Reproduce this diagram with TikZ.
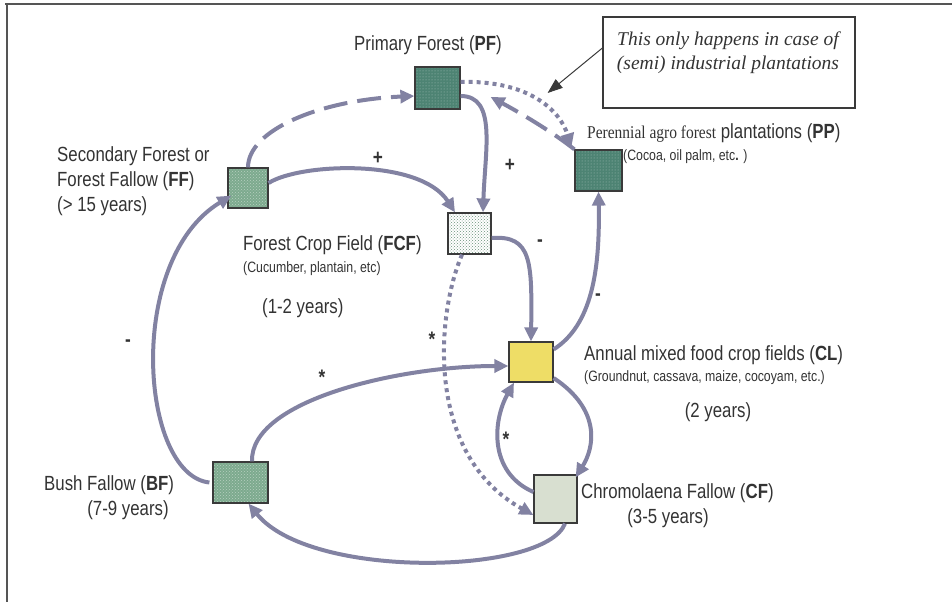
\documentclass[tikz,border=0pt]{standalone}
\usepackage{fontspec}
\usetikzlibrary{arrows.meta,patterns,calc}
\newfontfamily\lab{Liberation Sans}[FakeStretch=0.82]
\newfontfamily\ser{Liberation Serif}
\newfontfamily\sern{Liberation Serif}[FakeStretch=0.86]
\definecolor{linec}{HTML}{8282A2}
\definecolor{pfdark}{HTML}{4D8373}
\definecolor{ffgreen}{HTML}{7DAA8E}
\definecolor{cfgray}{HTML}{D8DFD0}
\definecolor{clyellow}{HTML}{EEDD66}
\definecolor{boxborder}{HTML}{3A3A3A}
\definecolor{txt}{HTML}{333333}
\definecolor{frame}{HTML}{555555}
\tikzset{
  box/.style={draw=boxborder, line width=1.2pt, inner sep=0pt},
  big/.style={font=\lab\fontsize{20.5}{25}\selectfont, text=txt, inner sep=0pt},
  small/.style={font=\lab\fontsize{15}{17}\selectfont, text=txt, inner sep=0pt},
  sign/.style={font=\lab\bfseries\fontsize{21}{21}\selectfont, text=txt, inner sep=0pt},
  flow/.style={draw=linec, line width=4pt, -{Triangle[length=14pt,width=13pt]}},
  dashflow/.style={flow, dash pattern=on 24pt off 10pt},
  dotflow/.style={draw=linec, line width=4pt, dash pattern=on 4pt off 4pt, -{Triangle[length=14pt,width=13pt]}},
}
\begin{document}
\begin{tikzpicture}[x=1pt,y=-1pt]
\useasboundingbox (0,0) rectangle (952,602);
% frame
\draw[frame, line width=2.5pt] (5,4) -- (952,4);
\draw[frame, line width=1.5pt] (7,4) -- (7,602);

% boxes
\node[box, minimum width=45pt, minimum height=42pt, preaction={fill=pfdark}, pattern=dots, pattern color=white!50!pfdark] (PF) at (437.5,88) {};
\node[box, minimum width=47pt, minimum height=41pt, preaction={fill=pfdark}, pattern=dots, pattern color=white!50!pfdark] (PP) at (598.5,170.5) {};
\node[box, minimum width=40pt, minimum height=40pt, preaction={fill=ffgreen}, pattern=crosshatch dots, pattern color=white!45!ffgreen] (FF) at (248,188) {};
\node[box, minimum width=43pt, minimum height=41pt, preaction={fill=white}, pattern=crosshatch dots, pattern color=ffgreen!85!black] (FCF) at (469.5,233.5) {};
\node[box, fill=clyellow, minimum width=44pt, minimum height=40pt] (CL) at (531,362) {};
\node[box, fill=cfgray, minimum width=43pt, minimum height=48pt] (CF) at (555.5,499) {};
\node[box, minimum width=55pt, minimum height=41pt, preaction={fill=ffgreen}, pattern=crosshatch dots, pattern color=white!45!ffgreen] (BF) at (240.5,482.5) {};

% callout
\node[draw=boxborder, line width=1.2pt, minimum width=252pt, minimum height=91pt, inner sep=0pt] (note) at (729,62.5) {};
\node[font=\ser\itshape\fontsize{19.5}{24}\selectfont, text=txt, align=center, inner sep=0pt] (notetext) at (728,53) {This only happens in case of\\(semi) industrial plantations};

% labels
\node[big] (PFl) at (428,45) {Primary Forest (\textbf{PF})};
\node[big, anchor=west, align=left] (FFl) at (57,181) {Secondary Forest or\\Forest Fallow (\textbf{FF})\\(> 15 years)};
\node[big, anchor=west] (FCFl) at (243,245) {Forest Crop Field (\textbf{FCF})};
\node[small, anchor=west] (FCFs) at (243,269) {(Cucumber, plantain, etc)};
\node[big, anchor=west] (FCFy) at (262,308) {(1-2 years)};
\node[big, anchor=west] (PPl) at (587,133) {{\sern\fontsize{18}{20}\selectfont Perennial agro forest} plantations (\textbf{PP})};
\node[small, anchor=west] (PPs) at (623,157) {(Cocoa, oil palm, etc\textbf{.} )};
\node[big, anchor=west] (CLl) at (584,355) {Annual mixed food crop fields (\textbf{CL})};
\node[small, anchor=west] (CLs) at (584,378) {(Groundnut, cassava, maize, cocoyam, etc.)};
\node[big] (CLy) at (718,412) {(2 years)};
\node[big, anchor=west] (CFl) at (581,493) {Chromolaena Fallow (\textbf{CF})};
\node[big] (CFy) at (668,518) {(3-5 years)};
\node[big, anchor=west] (BFl) at (44,485) {Bush Fallow (\textbf{BF})};
\node[big] (BFy) at (128,510) {(7-9 years)};

% signs
\node[sign] (s1) at (378,158) {+};
\node[sign] (s2) at (510,165) {+};
\node[sign] (s3) at (540,243) {-};
\node[sign] (s4) at (598,297) {-};
\node[sign] (s5) at (128,343) {-};
\node[sign] (s6) at (322,377) {*};
\node[sign] (s7) at (432,339) {*};
\node[sign] (s8) at (506,439) {*};

% connectors
\draw[flow] ([xshift=-3pt]BF.west) .. controls (140,475) and (125,260) .. ([shift={(4pt,13pt)}]FF.south west);
\draw[flow] ([xshift=11.5pt]BF.north) .. controls (250,400) and (400,366) .. ([yshift=-4pt]CL.west);
\draw[flow] ([xshift=9.5pt]CF.south) .. controls (545,575) and (310,580) .. ([xshift=8pt]BF.south);
\draw[flow] ([yshift=5pt]FF.east) .. controls (300,163) and (420,158) .. ([xshift=-14.5pt]FCF.north);
\draw[flow] ([yshift=-8pt]PF.east) .. controls (497,96) and (485,150) .. ([xshift=13.5pt]FCF.north);
\draw[flow] ([yshift=-4.5pt]FCF.east) .. controls (532,235) and (532,262) .. (CL.north);
\draw[flow] ([yshift=-8pt]CL.north east) .. controls (592,325) and (600,270) .. (PP.south);
\draw[flow] ([yshift=-16pt]CL.east) .. controls (602,410) and (594,448) .. ([shift={(-2pt,-3pt)}]CF.north east);
\draw[flow] ([yshift=7pt]CF.west) .. controls (488,472) and (493,420) .. ([xshift=-17pt]CL.south);
\draw[dotflow] ([xshift=-7.5pt]FCF.south) .. controls (436,315) and (425,455) .. ([yshift=-16pt]CF.west);
\draw[dashflow] (FF.north) .. controls (248,130) and (320,100) .. ([yshift=-8pt]PF.west);
\draw[dashflow] (PP.north west) .. controls (550,130) and (515,110) .. ([shift={(30pt,-9pt)}]PF.east);
\draw[dotflow] ([yshift=6pt]PF.east) .. controls (528,80) and (560,110) .. ([shift={(-3pt,2pt)}]PP.north west);
\draw[boxborder, line width=1pt, -{Triangle[length=15pt,width=11pt]}] ([yshift=14.5pt]note.west) -- ([shift={(87pt,-5pt)}]PF.east);
\end{tikzpicture}
\end{document}
